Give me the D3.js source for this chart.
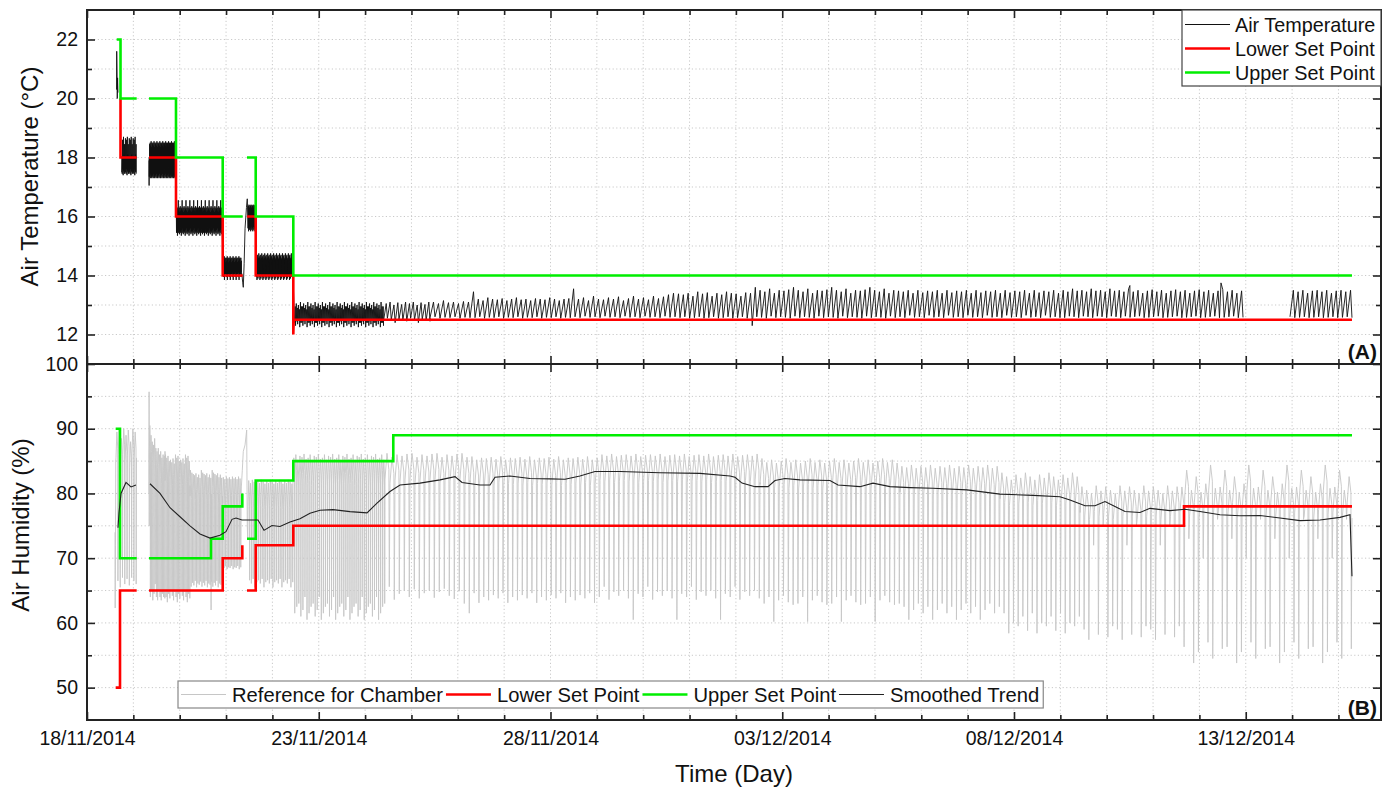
<!DOCTYPE html>
<html><head><meta charset="utf-8">
<script src="https://cdn.jsdelivr.net/npm/d3@7"></script>
<style>
body{margin:0;background:#fff}
svg{display:block}
text{font-family:"Liberation Sans",Arial,sans-serif;fill:#111}
</style>
</head><body>
<svg id="c" width="1390" height="788"></svg>
<script>
// ---------- DATA (time in days since 18/11/2014 00:00) ----------
const xTickDays = [0, 5, 10, 15, 20, 25];
const xTickLabels = ["18/11/2014", "23/11/2014", "28/11/2014", "03/12/2014", "08/12/2014", "13/12/2014"];
const tempTicks = [12, 14, 16, 18, 20, 22];
const tempMinorTicks = [13, 15, 17, 19, 21];
const humTicks = [50, 60, 70, 80, 90, 100];
const humMinorTicks = [55, 65, 75, 85, 95];

// Air temperature: blocks of compressor cycles (start, end, number of cycles, peaks, troughs)
const tempBlockStart  = [0.749, 1.345, 1.931, 2.934, 3.474, 3.646, 4.477, 6.397, 7.400, 8.371, 10.529, 12.794, 14.347, 17.540, 20.992, 22.503, 25.955];
const tempBlockEnd    = [1.062, 1.920, 2.919, 3.333, 3.635, 4.444, 6.397, 7.400, 8.371, 10.529, 12.794, 14.347, 17.540, 20.992, 22.503, 24.941, 27.292];
const tempBlockCycles = [30, 55, 95, 38, 14, 75, 85, 12, 9, 21, 21, 15, 31, 33, 15, 24, 13];
const tempBlockHigh = [
  [18.05,18.6,18.0,18.7,18.1,18.45,17.95,18.65],
  [18.45,18.5,18.4,18.55,18.35,18.5],
  [16.2,16.3,16.25,16.55,16.2,16.3,16.15,16.35],
  [14.6,14.5,14.65,14.55,14.6,14.45],
  [16.35,16.4,16.3,16.38],
  [14.6,14.65,14.7,14.55,14.6,14.75],
  [12.95,13.05,12.9,13.0,12.85,13.1,12.95],
  [13.05,13.1,13.0,13.08,13.02,13.1],
  [13.1,13.05,13.15,13.08,13.1,13.05,13.12,13.1,13.45],
  [13.2,13.15,13.25,13.2,13.18,13.22,13.15,13.2,13.25,13.18,13.2,13.15,13.22,13.2,13.18,13.25,13.2,13.15,13.2,13.22,13.55],
  [13.2,13.25,13.15,13.3,13.2,13.18,13.25,13.2,13.28,13.15,13.22,13.3,13.2,13.25,13.18,13.3,13.22,13.28,13.35,13.4,13.38],
  [13.35,13.4,13.3,13.45,13.38,13.42,13.3,13.4,13.35,13.45,13.4,13.38,13.3,13.42,13.4],
  [13.6,13.5,13.45,13.55,13.4,13.5,13.48,13.52],
  [13.45,13.5,13.4,13.5,13.42,13.48],
  [13.5,13.45,13.55,13.48],
  [13.45,13.5,13.4,13.48,13.52],
  [13.5,13.45,13.5,13.4,13.48]
];
const tempBlockLow = [
  [17.5,17.45,17.6,17.4,17.55,17.5,17.45,17.6],
  [17.35,17.4,17.3,17.45,17.35,17.3],
  [15.45,15.5,15.35,15.55,15.45,15.6,15.4,15.5],
  [14.05,13.95,14.1,13.85,14.0,14.05],
  [15.6,15.5,15.65,15.55],
  [14.0,13.95,13.85,14.05,13.9,14.0],
  [12.4,12.3,12.45,12.35,12.5,12.25,12.4],
  [12.45,12.55,12.5,12.4,12.52,12.48],
  [12.57,12.6,12.55,12.58],
  [12.57,12.6,12.55,12.58],
  [12.6,12.57,12.62,12.58],
  [12.57,12.6,12.55],
  [12.57,12.6,12.58,12.55,12.62],
  [12.6,12.57,12.65,12.58],
  [12.6,12.57,12.62],
  [12.58,12.6,12.62,12.57],
  [12.6,12.57,12.58]
];
// isolated readings (start-up, door openings, spikes)
const tempExtraPoints = [
  [0.637,20.3],[0.641,21.6],[0.648,20.9],[0.653,20.0],[0.660,20.7],[0.668,20.2],
  [1.338,17.9],[1.340,17.05],[1.343,18.0],
  [3.345,14.0],[3.360,13.75],[3.372,13.6],[3.390,14.4],[3.410,15.6],[3.440,16.3],[3.458,16.6],
  [14.352,12.3],[22.500,13.66],[24.466,13.75]
];
const tempBreaks = [0.70, 1.2, 25.4];

const tempLowerSet = [[0.723,20],[0.723,18],[1.072,18],null,[1.338,18],[1.920,18],[1.920,16],[2.928,16],[2.928,14],[3.359,14],null,
  [3.452,16],[3.640,16],[3.640,14],[4.451,14],[4.451,12],[4.46,12.5],[27.292,12.5]];
const tempUpperSet = [[0.641,22],[0.723,22],[0.723,20],[1.072,20],null,[1.338,20],[1.920,20],[1.920,18],[2.928,18],[2.928,16],[3.359,16],null,
  [3.452,18],[3.640,18],[3.640,16],[4.451,16],[4.451,14],[27.292,14]];

// Air humidity (reference chamber)
const humBlockStart  = [0.625, 1.345, 1.683, 2.222, 2.928, 3.474, 4.444, 6.429, 8.263, 11.068, 14.520, 17.540, 19.698, 21.424, 23.581];
const humBlockEnd    = [1.068, 1.683, 2.222, 2.923, 3.322, 4.444, 6.429, 8.263, 11.068, 14.520, 17.540, 19.698, 21.424, 23.581, 27.292];
const humBlockCycles = [9, 13, 20, 24, 12, 25, 45, 17, 27, 33, 29, 21, 17, 21, 36];
const humBlockHigh = [
  [89.5,90,88.5,90,89,89.8,88,90,89.5],
  [90.5,89,88,87.5,88.5,87,86.5,87,86,86.5,85.5,86,85.8],
  [86,85.5,85.8,85,85.2,84.8,85.4,84.6],
  [83.6,83.2,83,82.8,83.1,82.5,82.9,82.4],
  [82.5,82.2,82.6,82.3],
  [82,81.6,82.1,81.8,81.5],
  [85.5,86,85.2,85.8,85.6,86.1,85.3],
  [86.2,85.6,86,85.8,86.1],
  [85.7,85.2,85.5,85.4,85.6,85.3],
  [86,85.8,86.1,85.7,85.9],
  [85.4,84.8,85.2,84.7,85],
  [84.2,84,84.4,83.9],
  [83.2,82.6,82.1,82.9,82.4],
  [81.05,80.5,80,81.2,80.4],
  [81,83.6,80.5,82.6,80.2,81.5,84.4,80.8]
];
const humBlockLow = [
  [66.5,65.5,67,66,66.8,65.8,67,66.5,66],
  [64,65,63.5,64.5,66,64,63.5,65,64,63.5,64.5,64,63.8],
  [64,63.2,64.5,63.8,65,64.2,63.5,64.8],
  [65.6,66.2,65.8,66.5,65.5,66.1,65.9,66.4],
  [68.5,68.8,68.3,68.6],
  [66.6,66.1,66.8,65.5,66.3],
  [61.5,62.5,63,61,62,64,60.5],
  [65.6,63.6,64.5,65,64,65.2,63.8,64.6,65,63.9,64.8,65.3,64.2,63.7,64.9,63,61.5],
  [64.6,63.1,64,63.5,64.3,63.8],
  [65.6,63.6,64.8,64.2,65,63.8,60.5,64.5,64],
  [63,64,60.2,63.5,64.2,63.2,62.8],
  [62.5,60.5,62,63,61.5],
  [61.5,58.4,60,59.5,61,58.8],
  [59,57.4,72,58.2,75,57.8,59.5],
  [56.3,73,53.8,55.5,70,57,54.5,76,56]
];
const humExtraPoints = [
  [0.604,74],[0.608,62.3],[0.615,72],[0.620,85],
  [1.338,80],[1.340,95.7],[1.343,75],
  [2.677,62],
  [3.330,81],[3.350,83.5],[3.372,86.5],[3.410,87.5],[3.445,89.8],[3.458,75],[3.468,73]
];
const humBreaks = [1.2];

const humLowerSet = [[0.619,50],[0.712,50],[0.712,65],[1.072,65],null,[1.338,65],[2.928,65],[2.928,70],[3.351,70],[3.351,72],null,
  [3.452,65],[3.640,65],[3.640,72],[4.451,72],[4.451,75],[23.668,75],[23.668,78],[27.292,78]];
const humUpperSet = [[0.619,90],[0.712,90],[0.712,70],[1.072,70],null,[1.338,70],[2.675,70],[2.675,73],[2.928,73],[2.928,78],[3.351,78],[3.351,80],null,
  [3.452,73],[3.640,73],[3.640,82],[4.451,82],[4.451,85],[6.608,85],[6.608,89],[27.292,89]];

const trendDay = [0.669,0.690,0.734,0.841,0.949,1.057,
  1.359,1.575,1.791,2.006,2.222,2.438,2.654,2.869,2.999,3.128,3.215,3.344,3.689,3.819,3.991,4.164,4.380,4.595,4.811,5.027,5.307,5.674,6.041,6.257,6.537,6.753,7.184,7.616,7.940,8.091,8.479,8.695,8.803,9.126,9.558,9.989,10.313,10.636,10.960,11.499,12.362,13.225,13.873,13.981,14.132,14.412,14.693,14.844,15.059,15.383,16.030,16.203,16.677,16.958,17.325,17.756,18.252,18.986,19.698,20.410,20.992,21.208,21.532,21.748,21.963,22.179,22.395,22.718,22.934,23.366,23.689,24.013,24.444,24.876,25.307,25.739,26.170,26.602,27.033,27.249,27.292];
const trendValue = [74.7,77.0,80.0,81.7,81.0,81.3,
  81.5,80.0,77.8,76.4,75.0,73.75,73.1,73.55,74.1,76.0,76.2,75.9,75.9,74.3,75.05,74.9,75.6,76.1,76.95,77.4,77.5,77.2,77.0,78.5,80.3,81.3,81.6,82.1,82.6,81.7,81.3,81.3,82.5,82.7,82.3,82.25,82.2,82.7,83.4,83.4,83.2,83.1,82.7,82.5,81.6,81.05,81.05,82.0,82.3,82.1,82.0,81.3,81.05,81.6,81.05,80.9,80.8,80.55,79.9,79.7,79.5,79.0,78.1,78.1,78.75,78.0,77.2,77.05,77.7,77.35,77.55,77.2,76.7,76.55,76.6,76.2,75.8,75.9,76.3,76.7,67.2];
const trendBreaks = [1.2];

// ---------- BUILD ----------
const svg = d3.select("#c");
const L = 87, R = 1381, topA = 10, mid = 364, botB = 720;
const origin = Date.UTC(2014, 10, 18);
const toDate = d => new Date(origin + d * 864e5);
const x = d3.scaleUtc().domain([toDate(0), toDate((R - L) / 46.35)]).range([L, R]);
const yA = d3.scaleLinear().domain([11, 23]).range([mid, topA]);
const yB = d3.scaleLinear().domain([45, 100]).range([botB, mid]);

function tempCycles(b) {
  const s = tempBlockStart[b], e = tempBlockEnd[b], n = tempBlockCycles[b];
  const hi = tempBlockHigh[b], lo = tempBlockLow[b], p = (e - s) / n, pts = [];
  for (let i = 0; i < n; i++) {
    const t = s + i * p;
    pts.push([t, lo[i % lo.length]]);
    pts.push([t + 0.7 * p, hi[i % hi.length]]);
  }
  pts.push([e, lo[n % lo.length]]);
  return pts;
}
function humCycles(b) {
  const s = humBlockStart[b], e = humBlockEnd[b], n = humBlockCycles[b];
  const hi = humBlockHigh[b], lo = humBlockLow[b], p = (e - s) / n, pts = [];
  for (let i = 0; i < n; i++) {
    const t = s + i * p, h = hi[i % hi.length];
    pts.push([t, h - 4]);
    pts.push([t + 0.4 * p, h]);
    pts.push([t + 0.78 * p, h - 2.5]);
    pts.push([t + 0.86 * p, lo[i % lo.length]]);
  }
  pts.push([e, hi[n % hi.length] - 4]);
  return pts;
}
function assemble(points, breaks) {
  points.sort((a, b) => a[0] - b[0]);
  const out = [];
  points.forEach((pt, i) => {
    if (i > 0 && breaks.some(k => points[i - 1][0] < k && pt[0] > k)) out.push(null);
    out.push(pt);
  });
  return out;
}
let tPts = tempExtraPoints.map(d => d.slice());
tempBlockStart.forEach((_, b) => { tPts = tPts.concat(tempCycles(b)); });
const tempSeries = assemble(tPts, tempBreaks);
let hPts = humExtraPoints.map(d => d.slice());
humBlockStart.forEach((_, b) => { hPts = hPts.concat(humCycles(b)); });
const humSeries = assemble(hPts, humBreaks);
const trendSeries = assemble(trendDay.map((d, i) => [d, trendValue[i]]), trendBreaks);

const lineA = d3.line().defined(d => d !== null).x(d => x(toDate(d[0]))).y(d => yA(d[1]));
const lineB = d3.line().defined(d => d !== null).x(d => x(toDate(d[0]))).y(d => yB(d[1]));

// clip paths
const defs = svg.append("defs");
defs.append("clipPath").attr("id", "clipA").append("rect").attr("x", L).attr("y", topA).attr("width", R - L).attr("height", mid - topA);
defs.append("clipPath").attr("id", "clipB").append("rect").attr("x", L).attr("y", mid).attr("width", R - L).attr("height", botB - mid);

// grid
const grid = svg.append("g").attr("stroke", "#c9c9c9").attr("stroke-width", 1).attr("stroke-dasharray", "1.2,2.4");
const allDays = d3.range(1, 28);
[[topA, mid], [mid, botB]].forEach(([y0, y1]) => {
  grid.selectAll(null).data(allDays).enter().append("line")
    .attr("x1", d => x(toDate(d))).attr("x2", d => x(toDate(d))).attr("y1", y0).attr("y2", y1);
});
grid.selectAll(null).data(d3.range(12, 23)).enter().append("line")
  .attr("x1", L).attr("x2", R).attr("y1", d => yA(d)).attr("y2", d => yA(d));
grid.selectAll(null).data(d3.range(50, 100, 5)).enter().append("line")
  .attr("x1", L).attr("x2", R).attr("y1", d => yB(d)).attr("y2", d => yB(d));

// panel A data
const gA = svg.append("g").attr("clip-path", "url(#clipA)");
gA.append("path").datum(tempSeries).attr("d", lineA).attr("fill", "none").attr("stroke", "#111").attr("stroke-width", 0.9);
gA.append("path").datum(tempLowerSet).attr("d", lineA).attr("fill", "none").attr("stroke", "#ff0000").attr("stroke-width", 2.6);
gA.append("path").datum(tempUpperSet).attr("d", lineA).attr("fill", "none").attr("stroke", "#00ee00").attr("stroke-width", 2.6);

// panel B data
const gB = svg.append("g").attr("clip-path", "url(#clipB)");
gB.append("path").datum(humSeries).attr("d", lineB).attr("fill", "none").attr("stroke", "#c6c6c6").attr("stroke-width", 0.9);
gB.append("path").datum(humLowerSet).attr("d", lineB).attr("fill", "none").attr("stroke", "#ff0000").attr("stroke-width", 2.6);
gB.append("path").datum(humUpperSet).attr("d", lineB).attr("fill", "none").attr("stroke", "#00ee00").attr("stroke-width", 2.6);
gB.append("path").datum(trendSeries).attr("d", lineB).attr("fill", "none").attr("stroke", "#222").attr("stroke-width", 1.1);

// axes
const majorDates = xTickDays.map(toDate);
const minorDates = d3.range(0, 28).filter(d => d % 5 !== 0).map(toDate);
function styleAxis(g, labelSize) {
  g.select(".domain").remove();
  g.selectAll("line").attr("stroke", "#222").attr("stroke-width", 1.6);
  g.selectAll("text").attr("font-size", labelSize).attr("fill", "#111").style("font-family", '"Liberation Sans", Arial, sans-serif');
}
// bottom axes (A bottom, B bottom)
[[mid, false], [botB, true]].forEach(([yy, lab]) => {
  svg.append("g").attr("transform", `translate(0,${yy})`)
    .call(d3.axisBottom(x).tickValues(minorDates).tickSize(-5).tickFormat(""))
    .call(g => styleAxis(g, 19.5));
  svg.append("g").attr("transform", `translate(0,${yy})`)
    .call(d3.axisBottom(x).tickValues(majorDates).tickSize(-8).tickPadding(11)
      .tickFormat((d, i) => lab ? xTickLabels[i] : ""))
    .call(g => styleAxis(g, 19.5));
});
// top axes (A top, B top)
[topA, mid].forEach(yy => {
  svg.append("g").attr("transform", `translate(0,${yy})`)
    .call(d3.axisTop(x).tickValues(minorDates).tickSize(-5).tickFormat(""))
    .call(g => styleAxis(g, 19.5));
  svg.append("g").attr("transform", `translate(0,${yy})`)
    .call(d3.axisTop(x).tickValues(majorDates).tickSize(-8).tickFormat(""))
    .call(g => styleAxis(g, 19.5));
});
// y axes
function yAxes(scale, major, minor) {
  svg.append("g").attr("transform", `translate(${L},0)`)
    .call(d3.axisLeft(scale).tickValues(major).tickSize(-8).tickPadding(9).tickFormat(d3.format("d")))
    .call(g => styleAxis(g, 19.5));
  svg.append("g").attr("transform", `translate(${L},0)`)
    .call(d3.axisLeft(scale).tickValues(minor).tickSize(-5).tickFormat(""))
    .call(g => styleAxis(g, 19.5));
  svg.append("g").attr("transform", `translate(${R},0)`)
    .call(d3.axisRight(scale).tickValues(major).tickSize(-8).tickFormat(""))
    .call(g => styleAxis(g, 19.5));
  svg.append("g").attr("transform", `translate(${R},0)`)
    .call(d3.axisRight(scale).tickValues(minor).tickSize(-5).tickFormat(""))
    .call(g => styleAxis(g, 19.5));
}
yAxes(yA, tempTicks, tempMinorTicks);
yAxes(yB, humTicks, humMinorTicks);

// frames
svg.append("rect").attr("x", L).attr("y", topA).attr("width", R - L).attr("height", mid - topA)
  .attr("fill", "none").attr("stroke", "#222").attr("stroke-width", 2);
svg.append("rect").attr("x", L).attr("y", mid).attr("width", R - L).attr("height", botB - mid)
  .attr("fill", "none").attr("stroke", "#222").attr("stroke-width", 2);

// axis titles
svg.append("text").attr("transform", "translate(38,176.5) rotate(-90)").attr("text-anchor", "middle")
  .attr("font-size", 24).text("Air Temperature (°C)");
svg.append("text").attr("transform", "translate(29,525) rotate(-90)").attr("text-anchor", "middle")
  .attr("font-size", 24).text("Air Humidity (%)");
svg.append("text").attr("x", (L + R) / 2).attr("y", 782).attr("text-anchor", "middle")
  .attr("font-size", 24).text("Time (Day)");

// panel labels
svg.append("text").attr("x", 1377).attr("y", 359).attr("text-anchor", "end").attr("font-size", 21).attr("font-weight", "bold").text("(A)");
svg.append("text").attr("x", 1377).attr("y", 715).attr("text-anchor", "end").attr("font-size", 21).attr("font-weight", "bold").text("(B)");

// legend A
const legA = [["Air Temperature", "#111", 1], ["Lower Set Point", "#ff0000", 2.6], ["Upper Set Point", "#00ee00", 2.6]];
const gLA = svg.append("g");
gLA.append("rect").attr("x", 1182).attr("y", topA).attr("width", 199).attr("height", 76)
  .attr("fill", "#fff").attr("stroke", "#444").attr("stroke-width", 1.2);
legA.forEach(([name, col, w], i) => {
  const yy = 24.5 + i * 24;
  gLA.append("line").attr("x1", 1185).attr("x2", 1230).attr("y1", yy).attr("y2", yy).attr("stroke", col).attr("stroke-width", w);
  gLA.append("text").attr("x", 1235).attr("y", yy + 7).attr("font-size", 19.8).text(name);
});

// legend B
const legB = [["Reference for Chamber", "#c6c6c6", 1], ["Lower Set Point", "#ff0000", 2.6], ["Upper Set Point", "#00ee00", 2.6], ["Smoothed Trend", "#222", 1]];
const gLB = svg.append("g");
const boxB = gLB.append("rect").attr("x", 178).attr("y", 681).attr("height", 27)
  .attr("fill", "#fff").attr("stroke", "#888").attr("stroke-width", 1.2);
let cx = 181;
legB.forEach(([name, col, w]) => {
  gLB.append("line").attr("x1", cx).attr("x2", cx + 45).attr("y1", 694.5).attr("y2", 694.5).attr("stroke", col).attr("stroke-width", w);
  const t = gLB.append("text").attr("x", cx + 51).attr("y", 701.5).attr("font-size", 20.2).text(name);
  cx = cx + 51 + t.node().getComputedTextLength() + 3;
});
boxB.attr("width", cx - 178 + 1);
</script>
</body></html>
